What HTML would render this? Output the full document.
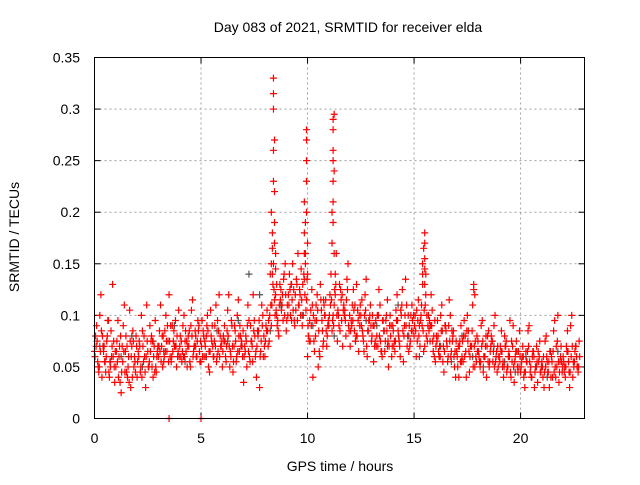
<!DOCTYPE html>
<html><head><meta charset="utf-8"><style>
body{margin:0;background:#fff}
svg text{font-family:"Liberation Sans",sans-serif;font-size:14px;fill:#000}
</style></head><body>
<svg id="chart" width="640" height="480" xmlns="http://www.w3.org/2000/svg">
<rect width="640" height="480" fill="#fff"/>
<text x="348" y="32" text-anchor="middle">Day 083 of 2021, SRMTID for receiver elda</text>
<text transform="translate(19,237) rotate(-90)" text-anchor="middle">SRMTID / TECUs</text>
<text x="340" y="471" text-anchor="middle">GPS time / hours</text>
<g id="grid"></g>
<g id="ticks"></g>
<g id="gray"></g>
<g id="red"></g>
<rect x="94.5" y="57.5" width="490" height="361" fill="none" stroke="#000" stroke-width="1"/>
</svg>
<script>
const xTicks=[0,5,10,15,20];
const yTicks=[0,0.05,0.1,0.15,0.2,0.25,0.3,0.35];
const yTickLabels=["0","0.05","0.1","0.15","0.2","0.25","0.3","0.35"];
// values x1000, step 0.1 h from 0
const seriesA=[65,90,45,120,70,55,80,40,60,75,
50,95,35,70,110,45,60,30,85,55,
40,75,100,55,30,65,90,50,70,45,
60,110,50,85,65,120,55,75,95,60,
70,55,100,65,80,50,115,70,60,90,
55,85,70,100,45,75,60,110,65,80,
50,90,70,120,60,45,85,100,65,75,
35,80,110,55,70,95,40,85,65,100,
60,105,75,90,150,120,95,130,110,140,
85,120,100,150,90,130,110,145,100,160,
60,95,125,75,110,50,130,85,100,70,
90,140,100,120,75,130,95,110,80,150,
70,110,85,130,65,100,80,120,60,95,
75,55,95,70,110,60,85,100,50,80,
90,65,120,75,100,55,135,80,70,110,
80,60,115,95,130,70,100,85,120,65,
55,95,70,110,45,85,60,100,75,50,
65,40,90,55,80,100,45,70,125,60,
75,50,95,60,40,85,70,55,100,45,
60,85,40,70,50,95,55,35,75,65,
45,70,30,55,90,40,65,50,35,75,
55,30,80,45,65,40,95,50,35,70,
60,40,85,30,100,50,70,45];
// values x1000, step 0.1 h from 0.05
const seriesB=[80,55,100,40,70,60,95,50,130,35,
75,60,25,90,65,40,105,70,50,80,
65,45,85,60,110,50,75,40,95,65,
85,70,55,100,75,60,90,70,50,105,
60,90,75,50,85,105,65,80,95,55,
95,60,80,50,105,70,90,60,120,70,
80,60,105,50,90,70,55,115,80,60,
70,50,95,75,120,60,85,30,110,80,
90,70,140,165,115,100,80,125,95,150,
110,140,95,125,105,160,120,90,135,115,
80,105,40,95,120,65,105,75,115,90,
120,85,110,160,100,125,70,105,135,85,
95,125,75,105,90,115,65,135,85,110,
100,70,80,125,65,95,75,115,90,60,
70,105,85,60,125,90,110,65,100,85,
100,75,90,110,65,140,90,75,105,60,
80,65,100,55,90,70,115,65,85,40,
50,75,60,95,40,85,70,110,50,80,
60,90,45,70,80,55,75,90,60,50,
70,50,80,45,65,40,90,60,50,85,
55,40,65,85,45,60,30,70,55,45,
40,75,55,30,60,85,40,100,55,45,
45,70,55,90,40,65,50,75];
// values x1000, step 0.1 h from 0.025
const seriesC=[60,75,50,85,65,45,95,55,70,50,
65,40,80,55,45,70,35,60,75,45,
55,70,40,80,60,50,65,75,45,60,
70,55,80,65,90,75,60,85,70,65,
80,65,60,75,70,90,60,85,75,65,
70,80,60,85,65,90,75,55,85,70,
65,75,85,70,95,55,75,65,90,70,
60,75,65,90,55,80,70,95,75,60,
75,85,100,110,125,105,85,115,120,100,
95,110,130,105,120,95,125,115,140,105,
90,75,110,65,95,85,115,70,100,80,
100,115,90,130,105,85,120,100,115,90,
85,95,110,80,100,90,75,105,85,100,
80,90,70,100,75,95,65,85,70,90,
85,75,95,70,110,80,90,100,75,95,
90,105,80,100,85,110,75,95,90,80,
70,80,60,85,65,75,90,60,80,65,
60,70,55,80,65,75,60,85,70,55,
65,55,75,60,70,50,80,65,55,70,
55,65,50,75,60,45,70,55,65,50,
50,60,45,65,55,40,60,50,65,45,
50,45,60,55,40,65,50,75,45,55,
55,50,65,45,70,55,60,50];
// values x1000, step 0.1 h from 0.075
const seriesD=[70,50,65,80,55,75,45,85,60,65,
55,70,45,65,80,50,75,40,60,70,
60,50,70,45,75,55,80,60,50,70,
65,80,60,75,55,90,65,70,80,60,
75,60,85,70,55,80,70,60,85,75,
60,75,90,65,80,60,70,95,60,75,
75,55,80,65,70,90,60,80,70,85,
65,90,60,75,85,65,80,60,90,70,
85,95,110,130,100,90,110,105,135,120,
100,125,115,95,135,110,100,130,120,135,
75,90,100,80,105,60,95,110,85,95,
110,95,125,100,90,115,105,95,125,100,
90,105,80,95,110,85,100,70,95,90,
90,75,100,80,65,85,95,75,100,70,
75,95,80,105,85,100,70,90,85,100,
85,95,70,90,105,80,100,90,75,95,
75,60,85,70,90,55,75,85,60,75,
70,55,75,60,85,65,70,50,75,65,
55,70,60,80,55,65,75,50,65,60,
65,55,70,50,60,75,50,65,45,60,
60,45,55,70,50,65,45,55,60,50,
60,50,45,65,55,45,70,55,60,50,
50,65,45,60,55,70,50,60];
const spikeTimes=[8.3,8.3,8.35,8.35,8.4,8.4,8.4,8.4,8.4,8.45,8.45,8.45,8.45,8.5,8.5,8.55,9.85,9.85,9.85,9.9,9.9,9.95,9.95,9.95,9.95,9.95,10.0,10.0,11.15,11.15,11.2,11.2,11.2,11.2,11.2,11.2,11.2,11.25,11.25,11.25,11.3,15.4,15.4,15.45,15.5,15.5,15.5,15.5,15.5,15.55,17.8,17.85,3.5,5.0];
const spikeValues=[0.15,0.2,0.18,0.14,0.23,0.26,0.3,0.315,0.33,0.27,0.22,0.19,0.17,0.16,0.145,0.13,0.18,0.16,0.21,0.19,0.15,0.2,0.23,0.25,0.27,0.28,0.17,0.14,0.2,0.17,0.29,0.28,0.26,0.25,0.23,0.21,0.19,0.295,0.24,0.16,0.14,0.15,0.14,0.165,0.18,0.17,0.155,0.145,0.13,0.12,0.13,0.12,0,0];
// gray series x1000, step 0.5 h from 0.25
const grayValues=[70,55,60,80,50,75,65,90,55,70,60,85,75,95,140,120,85,110,130,100,90,115,80,100,75,95,90,70,110,80,60,90,70,55,80,60,50,70,55,45,60,50,40,65,55];
const X0=94.5,X1=584.5,Y0=418.5,Y1=57.5,XMAX=23,YMAX=0.35;
const sx=t=>X0+(X1-X0)*t/XMAX, sy=v=>Y0-(Y0-Y1)*v/YMAX;
const NS="http://www.w3.org/2000/svg";
function mk(tag,attrs,parent){const e=document.createElementNS(NS,tag);for(const k in attrs)e.setAttribute(k,attrs[k]);parent.appendChild(e);return e;}
const grid=document.getElementById('grid'),ticks=document.getElementById('ticks');
xTicks.forEach(t=>{const x=sx(t);
 if(t>0){const g=mk('line',{x1:x,x2:x,y1:Y1,y2:Y0,stroke:'#a0a0a0','stroke-dasharray':'2,3'},grid);
 
 }
 mk('line',{x1:x,x2:x,y1:Y0,y2:Y0-6,stroke:'#000'},ticks);
 mk('line',{x1:x,x2:x,y1:Y1,y2:Y1+6,stroke:'#000'},ticks);
 const l=mk('text',{x:x,y:443,'text-anchor':'middle'},ticks);l.textContent=t;
 
 
});
yTicks.forEach((v,i)=>{const y=sy(v);
 if(v>0&&v<YMAX){const g=mk('line',{x1:X0,x2:X1,y1:y,y2:y,stroke:'#a0a0a0','stroke-dasharray':'2,3'},grid);
 
 }
 mk('line',{x1:X0,x2:X0+6,y1:y,y2:y,stroke:'#000'},ticks);
 mk('line',{x1:X1,x2:X1-6,y1:y,y2:y,stroke:'#000'},ticks);
 const l=mk('text',{x:80,y:y+5,'text-anchor':'end'},ticks);l.textContent=yTickLabels[i];
 
 
});
function plus(g,t,v,color){const x=sx(t),y=sy(v);
 const p=mk('path',{d:`M${x-3.5} ${y}H${x+3.5}M${x} ${y-3.5}V${y+3.5}`,stroke:color,'stroke-width':1.2,fill:'none'},g);
 
 }
const gray=document.getElementById('gray'),red=document.getElementById('red');
grayValues.forEach((v,i)=>plus(gray,0.25+i*0.5,v/1000,'#555'));
seriesA.forEach((v,i)=>plus(red,i*0.1,v/1000,'#f00'));
seriesB.forEach((v,i)=>plus(red,0.05+i*0.1,v/1000,'#f00'));
seriesC.forEach((v,i)=>plus(red,0.025+i*0.1,v/1000,'#f00'));
seriesD.forEach((v,i)=>plus(red,0.075+i*0.1,v/1000,'#f00'));
spikeTimes.forEach((t,i)=>plus(red,t,spikeValues[i],'#f00'));
</script>
</body></html>
